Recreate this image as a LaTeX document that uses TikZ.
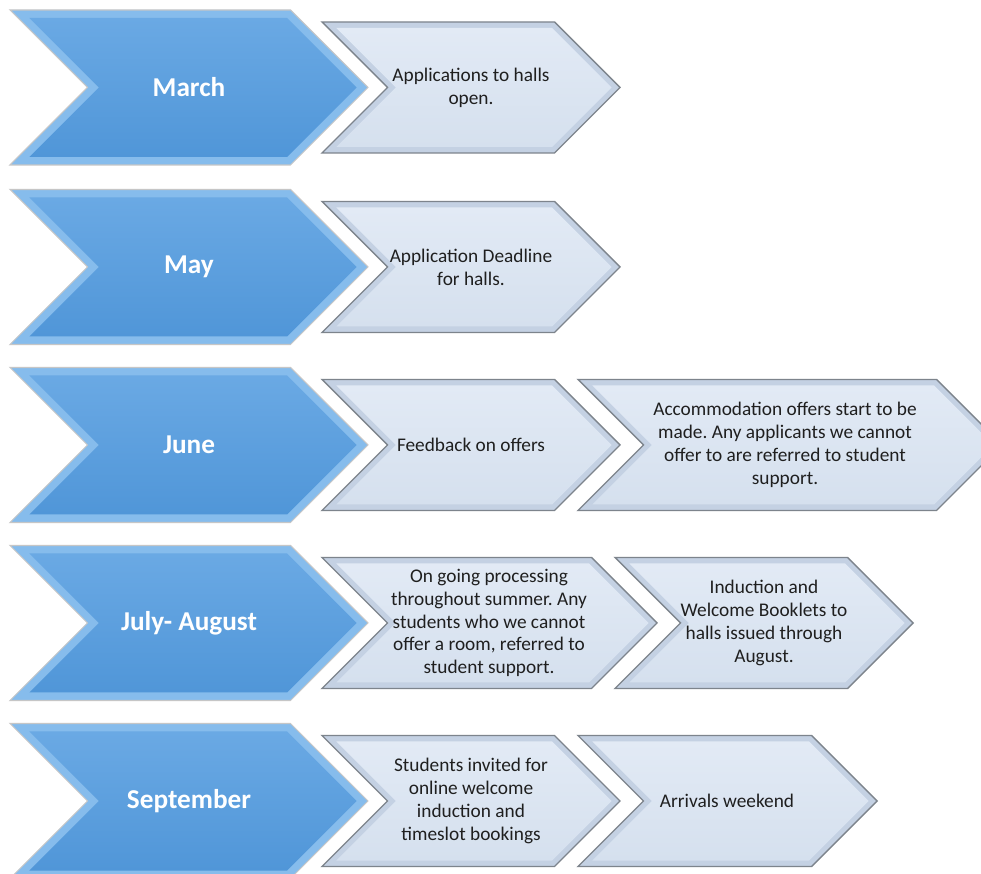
\documentclass[tikz,border=0pt]{standalone}
\usepackage{xcolor}
\usepackage{fontspec}
\setmainfont{Carlito}
\usepackage{tikz}
\frenchspacing

\definecolor{bigtop}{HTML}{6AA9E4}
\definecolor{bigbot}{HTML}{5096D8}
\definecolor{bigedge}{HTML}{86BCEC}
\definecolor{lighttop}{HTML}{E2EAF5}
\definecolor{lightbot}{HTML}{D5E0EE}
\definecolor{lightedge}{HTML}{C4D1E3}
\definecolor{lightline}{HTML}{7D848C}

% chevron outline: left x, tip x, middle y, half height
\newcommand{\chevpath}[4]{({#1},{#3-(#4)}) -- ({#2-(#4)},{#3-(#4)}) -- ({#2},{#3}) -- ({#2-(#4)},{#3+(#4)}) -- ({#1},{#3+(#4)}) -- ({#1+(#4)},{#3}) -- cycle}
% full chevron with white halo and bevel: left, tip, mid y, half height, bevel, kind
\newcommand{\chevron}[6]{%
	\path[draw=white, line width=4pt] \chevpath{#1}{#2}{#3}{#4};
	\path[#6outer] \chevpath{#1}{#2}{#3}{#4};
	\path[#6inner] \chevpath{#1+2.41*#5}{#2-1.41*#5}{#3}{#4-#5};
}

\begin{document}
\begin{tikzpicture}[x=0.02cm, y=-0.02cm]
			\tikzstyle{bigouter}=[fill=bigedge, draw=gray!45, line width=0.6pt]
			\tikzstyle{biginner}=[top color=bigtop, bottom color=bigbot]
			\tikzstyle{lightouter}=[fill=lightedge, draw=lightline, line width=0.8pt]
			\tikzstyle{lightinner}=[top color=lighttop, bottom color=lightbot]
			\tikzstyle{month}=[text=white, font=\fontsize{15.5}{18}\selectfont\bfseries]
			\tikzstyle{task}=[text=black!88, align=center, font=\fontsize{11}{13}\selectfont]
			
			\useasboundingbox (0,0) rectangle (981,874);
			
			% March
			\chevron{322}{620}{87.5}{65.5}{6}{light}
			\chevron{10}{368}{87.5}{77.5}{8}{big}
			\node[month] (march) at (189,87.5) {March};
			\node[task] (mar1) at (471,87.5) {Applications to halls\\open.};
			
			% May
			\chevron{322}{620}{267}{65.5}{6}{light}
			\chevron{10}{368}{267}{77.5}{8}{big}
			\node[month] (may) at (189,267) {May};
			\node[task] (may1) at (471,267) {Application Deadline\\for halls.};
			
			% June
			\chevron{578}{1002}{445}{65.5}{6}{light}
			\chevron{322}{620}{445}{65.5}{6}{light}
			\chevron{10}{368}{445}{77.5}{8}{big}
			\node[month] (june) at (189,445) {June};
			\node[task] (jun1) at (471,445) {Feedback on offers};
			\node[task] (jun2) at (785,445) {Accommodation offers start to be\\made. Any applicants we cannot\\offer to are referred to student\\support.};
			
			% July - August
			\chevron{615}{913}{623}{65.5}{6}{light}
			\chevron{322}{657}{623}{65.5}{6}{light}
			\chevron{10}{368}{623}{77.5}{8}{big}
			\node[month] (julaug) at (189,623) {July- August};
			\node[task] (jul1) at (489,623) {On going processing\\throughout summer. Any\\students who we cannot\\offer a room, referred to\\student support.};
			\node[task] (jul2) at (764,623) {Induction and\\Welcome Booklets to\\halls issued through\\August.};
			
			% September
			\chevron{578}{877}{801}{65.5}{6}{light}
			\chevron{322}{620}{801}{65.5}{6}{light}
			\chevron{10}{368}{801}{77.5}{8}{big}
			\node[month] (sept) at (189,801) {September};
			\node[task] (sep1) at (471,801) {Students invited for\\online welcome\\induction and\\timeslot bookings};
			\node[task] (sep2) at (727,801) {Arrivals weekend};
			
\end{tikzpicture}
\end{document}
